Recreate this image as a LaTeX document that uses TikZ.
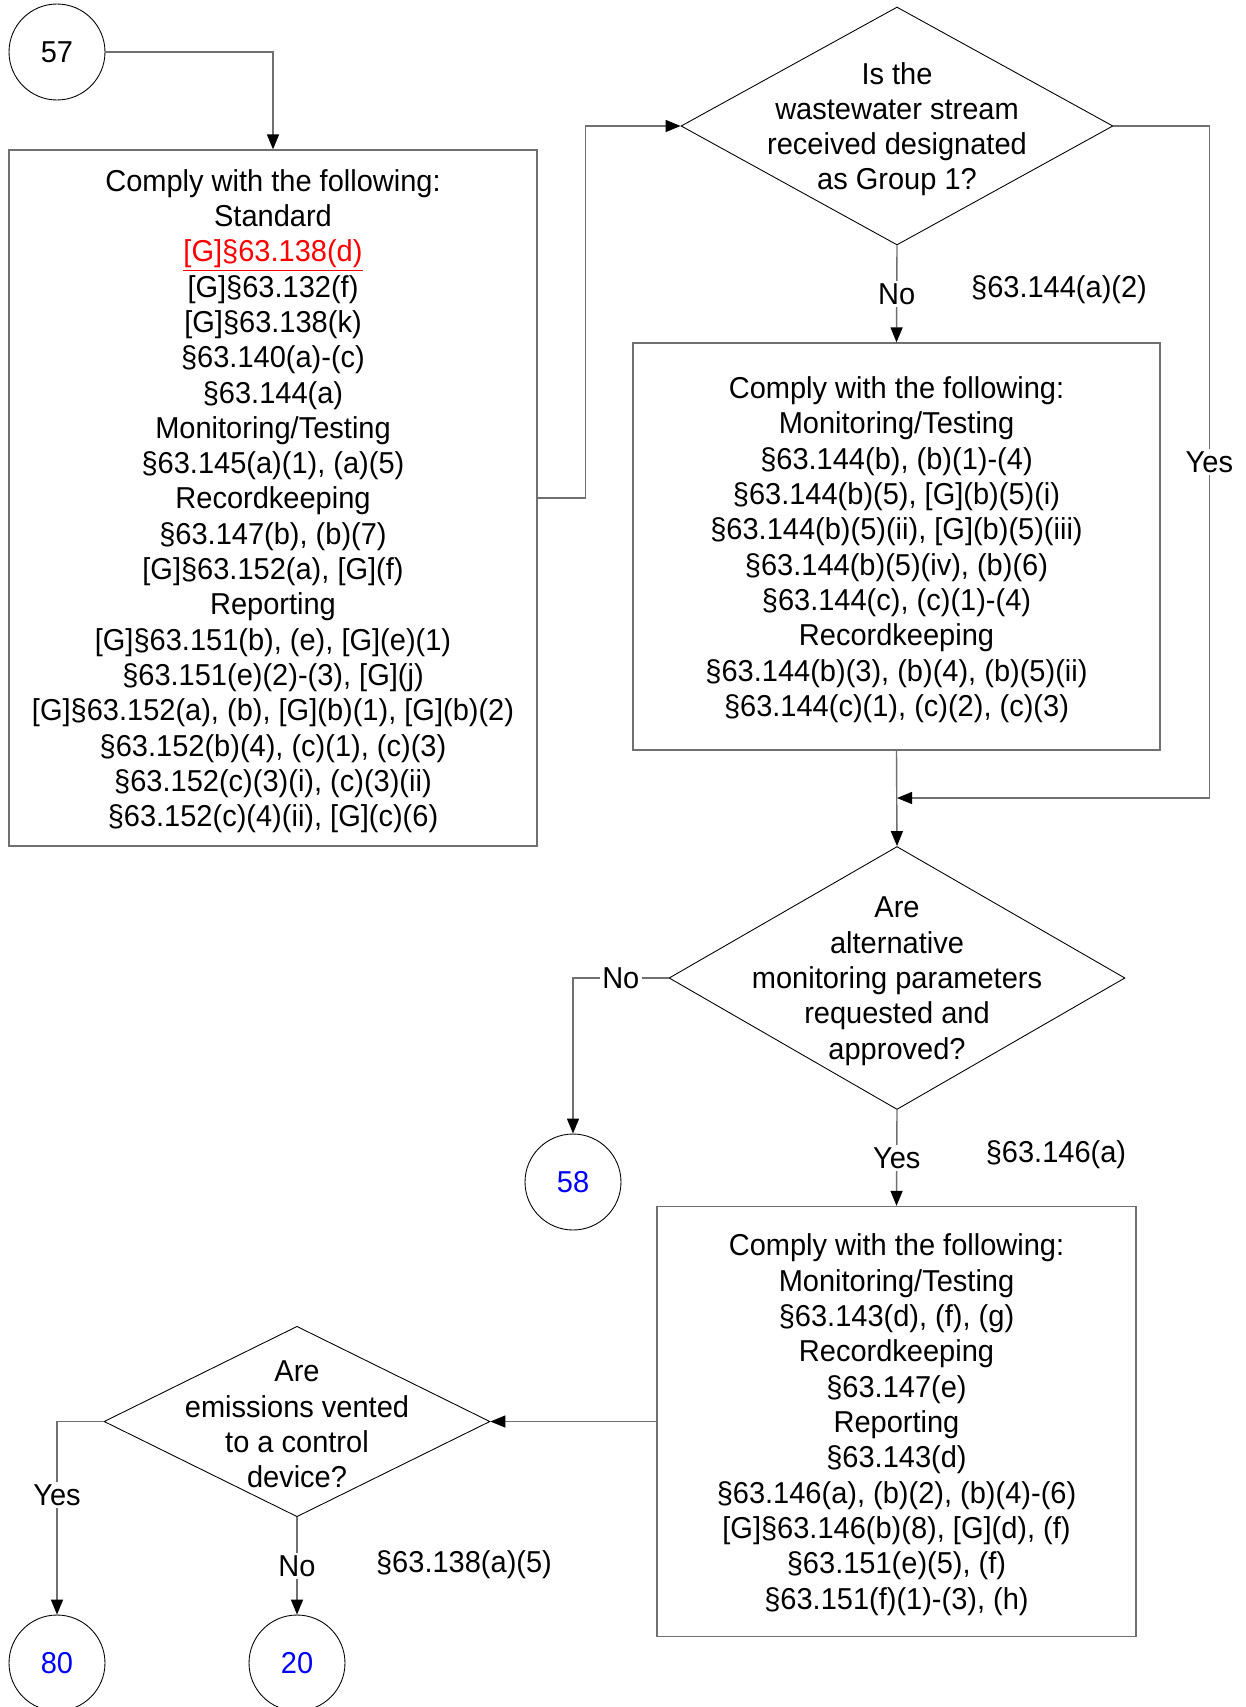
\documentclass[tikz,border=0pt]{standalone}
\usepackage{fontspec}
\setmainfont[FakeStretch=0.96]{Liberation Sans}
\usetikzlibrary{shapes.geometric,arrows.meta}

\definecolor{linegray}{RGB}{112,112,112}
\definecolor{refred}{RGB}{255,0,0}
\definecolor{refblue}{RGB}{0,0,255}

\tikzset{
  every node/.style={font=\fontsize{17.2}{20.1}\selectfont},
  box/.style={draw=linegray, line width=0.8pt, inner sep=0pt},
  decision/.style={diamond, draw, line width=0.5pt, inner sep=0pt},
  offpage/.style={circle, draw, line width=0.5pt, minimum size=1.92cm, inner sep=0pt},
  inside/.style={align=center, yshift=-1.8pt},
  flow/.style={draw=linegray, line width=0.8pt,
    -{Triangle[length=0.3cm, width=0.24cm, color=black]}},
  tag/.style={fill=white, inner sep=1.5pt},
}

\begin{document}
\begin{tikzpicture}[x=0.02cm, y=-0.02cm]
\useasboundingbox (0,0) rectangle (1246,1707);

% Off-page connectors
\node[offpage] (c57) at (57,52) {57};
\node[offpage, text=refblue] (c58) at (573,1182) {58};
\node[offpage, text=refblue] (c80) at (57,1663) {80};
\node[offpage, text=refblue] (c20) at (297,1663) {20};

% Boxes
\node[box, minimum width=10.56cm, minimum height=13.92cm] (box1) at (273,498) {};
\node[inside] (box1text) at (box1)
  {Comply with the following:\\Standard\\
   \textcolor{refred}{\underline{[G]§63.138(d)}}\\
   {[G]§63.132(f)}\\{[G]§63.138(k)}\\§63.140(a)-(c)\\§63.144(a)\\
   Monitoring/Testing\\§63.145(a)(1), (a)(5)\\
   Recordkeeping\\§63.147(b), (b)(7)\\{[G]§63.152(a), [G](f)}\\
   Reporting\\{[G]§63.151(b), (e), [G](e)(1)}\\§63.151(e)(2)-(3), [G](j)\\
   {[G]§63.152(a), (b), [G](b)(1), [G](b)(2)}\\§63.152(b)(4), (c)(1), (c)(3)\\
   §63.152(c)(3)(i), (c)(3)(ii)\\§63.152(c)(4)(ii), [G](c)(6)};

\node[box, minimum width=10.54cm, minimum height=8.14cm] (box2) at (896.5,546.5) {};
\node[inside] (box2text) at (box2)
  {Comply with the following:\\Monitoring/Testing\\
   §63.144(b), (b)(1)-(4)\\§63.144(b)(5), [G](b)(5)(i)\\
   §63.144(b)(5)(ii), [G](b)(5)(iii)\\§63.144(b)(5)(iv), (b)(6)\\
   §63.144(c), (c)(1)-(4)\\Recordkeeping\\
   §63.144(b)(3), (b)(4), (b)(5)(ii)\\§63.144(c)(1), (c)(2), (c)(3)};

\node[box, minimum width=9.58cm, minimum height=8.6cm] (box3) at (896.5,1421.5) {};
\node[inside] (box3text) at (box3)
  {Comply with the following:\\Monitoring/Testing\\§63.143(d), (f), (g)\\
   Recordkeeping\\§63.147(e)\\Reporting\\§63.143(d)\\
   §63.146(a), (b)(2), (b)(4)-(6)\\{[G]§63.146(b)(8), [G](d), (f)}\\
   §63.151(e)(5), (f)\\§63.151(f)(1)-(3), (h)};

% Decisions
\node[decision, minimum width=8.64cm, minimum height=4.76cm] (d1) at (897,126) {};
\node[inside] (d1text) at (d1) {Is the\\wastewater stream\\received designated\\as Group 1?};

\node[decision, minimum width=9.12cm, minimum height=5.26cm] (d2) at (897,978) {};
\node[inside] (d2text) at (d2) {Are\\alternative\\monitoring parameters\\requested and\\approved?};

\node[decision, minimum width=7.72cm, minimum height=3.81cm] (d3) at (297,1421.5) {};
\node[inside] (d3text) at (d3) {Are\\emissions vented\\to a control\\device?};

% Citations beside the branches
\node (cite1) at (1059,290) {§63.144(a)(2)};
\node (cite2) at (1056,1155) {§63.146(a)};
\node (cite3) at (464,1565) {§63.138(a)(5)};

\coordinate (join) at (897,798);

% Connectors
\draw[flow] (c57.east) -| (box1.north);
\draw[flow] (box1.east) -- ++(48,0) |- (d1.west);
\draw[flow] (d1.south) -- node[tag] {No} (box2.north);
\draw[flow] (d1.east) -- ++(96,0) |- node[tag, pos=0.25] {Yes} (join);
\draw[flow] (box2.south) -- (d2.north);
\draw[flow] (d2.west) -| node[tag, pos=0.25] {No} (c58.north);
\draw[flow] (d2.south) -- node[tag] {Yes} (box3.north);
\draw[flow] (box3.west) -- (d3.east);
\draw[flow] (d3.west) -| node[tag, pos=0.69] {Yes} (c80.north);
\draw[flow] (d3.south) -- node[tag] {No} (c20.north);

\end{tikzpicture}
\end{document}
